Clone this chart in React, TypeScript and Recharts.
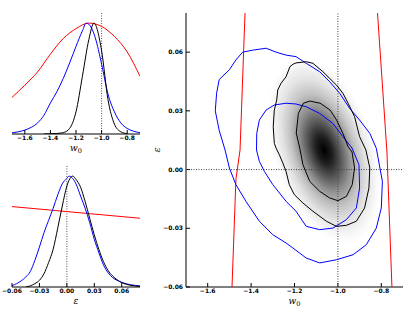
import { ComposedChart, Line, Scatter, XAxis, YAxis, ReferenceLine } from 'recharts'

// axes
const W_DOMAIN: [number, number] = [-1.7, -0.7]
const E_DOMAIN: [number, number] = [-0.06, 0.08]
const P_DOMAIN: [number, number] = [0, 1.1]

const W_TICKS = [-1.6, -1.4, -1.2, -1.0, -0.8]
const W_TICK_LABELS = ['−1.6', '−1.4', '−1.2', '−1.0', '−0.8']
const E_TICKS = [-0.06, -0.03, 0, 0.03, 0.06]
const E_TICK_LABELS = ['−0.06', '−0.03', '0.00', '0.03', '0.06']
const W_MINOR = [-1.7, -1.65, -1.6, -1.55, -1.5, -1.45, -1.4, -1.35, -1.3, -1.25, -1.2, -1.15, -1.1, -1.05, -1.0, -0.95, -0.9, -0.85, -0.8, -0.75]
const E_MINOR = [-0.0525, -0.045, -0.0375, -0.03, -0.0225, -0.015, -0.0075, 0, 0.0075, 0.015, 0.0225, 0.03, 0.0375, 0.045, 0.0525, 0.06, 0.0675, 0.075]

// fiducial values marked by the dotted lines
const W_FIDUCIAL = -1.0
const E_FIDUCIAL = 0

// marginal of w0
const W_RED_X = [-1.7, -1.6, -1.5, -1.4, -1.3, -1.2, -1.1, -1.0, -0.9, -0.8, -0.7]
const W_RED_Y = [0.33, 0.44, 0.56, 0.72, 0.86, 0.95, 1.0, 0.97, 0.88, 0.74, 0.52]
const W_BLUE_X = [-1.7, -1.65, -1.6, -1.55, -1.5, -1.45, -1.4, -1.35, -1.3, -1.25, -1.2, -1.15, -1.12, -1.1, -1.05, -1.0, -0.95, -0.9, -0.85, -0.8, -0.75, -0.7]
const W_BLUE_Y = [0.01, 0.02, 0.035, 0.06, 0.1, 0.17, 0.28, 0.38, 0.5, 0.64, 0.79, 0.93, 1.0, 0.99, 0.87, 0.63, 0.36, 0.2, 0.1, 0.05, 0.025, 0.012]
const W_BLACK_X = [-1.45, -1.4, -1.35, -1.3, -1.25, -1.2, -1.15, -1.1, -1.06, -1.0, -0.95, -0.9, -0.85, -0.8]
const W_BLACK_Y = [0, 0.002, 0.005, 0.012, 0.05, 0.2, 0.52, 0.85, 1.0, 0.75, 0.31, 0.09, 0.02, 0.003]

// marginal of epsilon
const E_RED_X = [-0.06, 0, 0.08]
const E_RED_Y = [0.725, 0.68, 0.62]
const E_BLUE_X = [-0.06, -0.055, -0.05, -0.045, -0.04, -0.035, -0.03, -0.025, -0.02, -0.015, -0.01, -0.005, 0, 0.0025, 0.005, 0.01, 0.015, 0.02, 0.025, 0.03, 0.035, 0.04, 0.045, 0.05, 0.055, 0.06, 0.07, 0.08]
const E_BLUE_Y = [0.012, 0.03, 0.055, 0.09, 0.14, 0.24, 0.36, 0.49, 0.6, 0.71, 0.83, 0.93, 0.98, 1.0, 0.99, 0.93, 0.82, 0.71, 0.58, 0.43, 0.31, 0.2, 0.13, 0.085, 0.06, 0.042, 0.02, 0.01]
const E_BLACK_X = [-0.045, -0.04, -0.035, -0.03, -0.025, -0.02, -0.015, -0.01, -0.005, 0, 0.0065, 0.01, 0.015, 0.02, 0.025, 0.03, 0.035, 0.04, 0.045, 0.05, 0.055, 0.06, 0.07, 0.08]
const E_BLACK_Y = [0, 0.01, 0.03, 0.06, 0.12, 0.22, 0.34, 0.53, 0.73, 0.91, 1.0, 0.97, 0.9, 0.77, 0.62, 0.47, 0.34, 0.23, 0.15, 0.1, 0.065, 0.04, 0.015, 0.005]

// joint (w0, epsilon) contours, traced point by point
const BLUE_OUTER = [
  [-1.547, 0.02], [-1.565, 0.03], [-1.559, 0.039], [-1.547, 0.046], [-1.5, 0.051], [-1.47, 0.056], [-1.439, 0.06],
  [-1.393, 0.061], [-1.331, 0.062], [-1.285, 0.06], [-1.239, 0.0585], [-1.193, 0.0577], [-1.146, 0.0543], [-1.084, 0.05],
  [-1.038, 0.0449], [-0.992, 0.039], [-0.946, 0.0313], [-0.9, 0.0253], [-0.853, 0.0185], [-0.823, 0.0109], [-0.795, -0.006],
  [-0.8, -0.0196], [-0.823, -0.0299], [-0.869, -0.0384], [-0.93, -0.0435], [-1.007, -0.0461], [-1.084, -0.0477],
  [-1.146, -0.0452], [-1.207, -0.0401], [-1.239, -0.0375], [-1.3, -0.0333], [-1.362, -0.0264], [-1.424, -0.0162],
  [-1.47, -0.0077], [-1.5, 0.0008], [-1.52, 0.01],
]
const BLUE_INNER = [
  [-1.193, 0.0335], [-1.239, 0.0339], [-1.293, 0.033], [-1.331, 0.0304], [-1.362, 0.0253], [-1.374, 0.0185], [-1.375, 0.01],
  [-1.362, 0.0042], [-1.339, -0.0009], [-1.3, -0.0077], [-1.239, -0.0162], [-1.193, -0.0213], [-1.146, -0.029],
  [-1.084, -0.0307], [-1.023, -0.0299], [-0.961, -0.0256], [-0.915, -0.0196], [-0.9, -0.0094], [-0.903, 0.0025],
  [-0.935, 0.011], [-0.977, 0.0168], [-1.023, 0.0236], [-1.084, 0.0287], [-1.146, 0.0321],
]
const BLACK_OUTER = [
  [-1.207, 0.0538], [-1.221, 0.0526], [-1.239, 0.0474], [-1.262, 0.0441], [-1.277, 0.0407], [-1.282, 0.0355], [-1.293, 0.0304],
  [-1.298, 0.0219], [-1.293, 0.0134], [-1.285, 0.011], [-1.27, 0.0076], [-1.254, 0.0034], [-1.239, -0.0009], [-1.224, -0.0077],
  [-1.201, -0.0128], [-1.161, -0.0171], [-1.115, -0.0213], [-1.053, -0.0264], [-1.007, -0.029], [-0.961, -0.0285],
  [-0.915, -0.0264], [-0.877, -0.0196], [-0.857, -0.0094], [-0.853, 0.0008], [-0.871, 0.01], [-0.9, 0.0168], [-0.923, 0.027],
  [-0.953, 0.0339], [-0.977, 0.039], [-1.007, 0.0432], [-1.038, 0.0466], [-1.069, 0.05], [-1.115, 0.0543], [-1.146, 0.0551],
  [-1.193, 0.0545],
]
const BLACK_INNER = [
  [-1.129, 0.035], [-1.159, 0.0339], [-1.182, 0.0287], [-1.192, 0.0187], [-1.176, 0.011], [-1.161, 0.0025], [-1.13, -0.006],
  [-1.084, -0.0111], [-1.038, -0.0145], [-1.0, -0.0159], [-0.961, -0.0137], [-0.934, -0.0077], [-0.923, 0.0008], [-0.935, 0.009],
  [-0.953, 0.0117], [-0.977, 0.0185], [-1.006, 0.0253], [-1.036, 0.0304], [-1.082, 0.0339],
]
const RED_LEFT = [[-1.428, 0.08], [-1.451, 0.01], [-1.47, -0.005], [-1.488, -0.06]]
const RED_RIGHT = [[-0.8175, 0.08], [-0.774, 0.009], [-0.751, -0.06]]
const DENSITY_PEAK = [[-1.064, 0.01]]

const zip = (xs: number[], ys: number[]) => xs.map((x, i) => ({ x, y: ys[i] }))
const pts = (arr: number[][]) => arr.map(([w, e]) => ({ w, e }))
const fmt = (ticks: number[], labels: string[]) => (v: number) => {
  const i = ticks.findIndex((t) => Math.abs(t - v) < 1e-9)
  return i >= 0 ? labels[i] : ''
}

const tickFont = { fontFamily: 'DejaVu Sans', fontWeight: 'bold', fontSize: 6, fill: '#000' }
const mathFont = { fontFamily: 'DejaVu Serif', fontStyle: 'italic' }

const wTitle = (props: any) => {
  const vb = props.viewBox
  if (!vb) return null
  return (
    <text x={vb.x + vb.width / 2} y={vb.y + 16.5} textAnchor="middle" fontSize={9} {...mathFont}>
      w<tspan fontSize={6.5} fontStyle="normal" dy={2}>0</tspan>
    </text>
  )
}
const eTitle = (props: any) => {
  const vb = props.viewBox
  if (!vb) return null
  return (
    <text x={vb.x + vb.width / 2} y={vb.y + 16.5} textAnchor="middle" fontSize={9} {...mathFont}>
      ε
    </text>
  )
}
const eTitleY = (props: any) => {
  const vb = props.viewBox
  if (!vb) return null
  const x = vb.x + 20
  const y = vb.y + vb.height / 2
  return (
    <text x={x} y={y} textAnchor="middle" fontSize={9.5} transform={`rotate(-90 ${x} ${y})`} {...mathFont}>
      ε
    </text>
  )
}

const DensityBlob = (props: any) => {
  const { cx, cy } = props
  if (cx == null || cy == null) return <g />
  return (
    <g>
      <defs>
        <radialGradient id="densityFill" cx="50%" cy="50%" r="50%">
          <stop offset="0%" stopColor="#000" />
          <stop offset="14%" stopColor="#1e1e1e" />
          <stop offset="28%" stopColor="#545454" />
          <stop offset="43%" stopColor="#909090" />
          <stop offset="58%" stopColor="#c2c2c2" />
          <stop offset="73%" stopColor="#e2e2e2" />
          <stop offset="87%" stopColor="#f5f5f5" />
          <stop offset="100%" stopColor="#fff" stopOpacity={0} />
        </radialGradient>
      </defs>
      <ellipse cx={cx} cy={cy} rx={52} ry={100} fill="url(#densityFill)" transform={`rotate(-18 ${cx} ${cy})`} />
    </g>
  )
}

const NoMark = () => <g />

type Curve = { color: string; data: { x: number; y: number }[] }

const Marginal = ({ top, height, marginTop, domain, ticks, labels, refX, title, curves }: {
  top: number
  height: number
  marginTop: number
  domain: [number, number]
  ticks: number[]
  labels: string[]
  refX: number
  title: (p: any) => any
  curves: Curve[]
}) => (
  <div style={{ position: 'absolute', left: 0, top }}>
    <ComposedChart width={145} height={height} margin={{ top: marginTop, right: 5, bottom: 0, left: 12 }}>
      <XAxis type="number" dataKey="x" domain={domain} allowDataOverflow ticks={ticks} interval={0}
        tickFormatter={fmt(ticks, labels)} tickSize={-4} tickMargin={6} tick={tickFont} stroke="#000"
        height={height - marginTop - 122} label={title} />
      <XAxis xAxisId="top" orientation="top" mirror type="number" domain={domain} allowDataOverflow ticks={ticks}
        interval={0} tickSize={4} tick={false} height={0} stroke="#000" />
      <YAxis type="number" domain={P_DOMAIN} allowDataOverflow mirror width={0} tick={false} tickLine={false} stroke="#000" />
      <YAxis yAxisId="r" orientation="right" type="number" domain={P_DOMAIN} allowDataOverflow mirror width={0}
        tick={false} tickLine={false} stroke="#000" />
      <ReferenceLine x={refX} stroke="#555" strokeDasharray="1 1.5" />
      {curves.map((c) => (
        <Line key={c.color} data={c.data} dataKey="y" type="monotone" stroke={c.color} strokeWidth={1}
          dot={false} activeDot={false} isAnimationActive={false} />
      ))}
    </ComposedChart>
  </div>
)

// a contour is drawn as a scatter whose points are joined in order and not marked
const contour = (key: string, data: number[][], color: string, closed = true, dash?: string) => (
  <Scatter key={key} data={pts(closed ? [...data, data[0]] : data)} dataKey="e" shape={NoMark}
    line={{ stroke: color, strokeWidth: 1, strokeDasharray: dash }} lineType="joint" fill="none"
    isAnimationActive={false} />
)

export default function App() {
  return (
    <div style={{ position: 'absolute', left: 0, top: 0, width: 415, height: 312, background: '#fff' }}>
      <Marginal top={0} height={165} marginTop={12} domain={W_DOMAIN} ticks={W_TICKS} labels={W_TICK_LABELS}
        refX={W_FIDUCIAL} title={wTitle}
        curves={[
          { color: '#ff0000', data: zip(W_RED_X, W_RED_Y) },
          { color: '#0000ff', data: zip(W_BLUE_X, W_BLUE_Y) },
          { color: '#000000', data: zip(W_BLACK_X, W_BLACK_Y) },
        ]} />
      <Marginal top={150} height={162} marginTop={15} domain={E_DOMAIN} ticks={E_TICKS} labels={E_TICK_LABELS}
        refX={E_FIDUCIAL} title={eTitle}
        curves={[
          { color: '#ff0000', data: zip(E_RED_X, E_RED_Y) },
          { color: '#0000ff', data: zip(E_BLUE_X, E_BLUE_Y) },
          { color: '#000000', data: zip(E_BLACK_X, E_BLACK_Y) },
        ]} />

      <div style={{ position: 'absolute', left: 140, top: 0 }}>
        <ComposedChart width={275} height={312} margin={{ top: 13, right: 12, bottom: 0, left: 0 }}>
          <XAxis type="number" dataKey="w" domain={W_DOMAIN} allowDataOverflow ticks={W_TICKS} interval={0}
            tickFormatter={fmt(W_TICKS, W_TICK_LABELS)} tickSize={-4} tickMargin={6} tick={tickFont}
            stroke="#000" height={25} label={wTitle} />
          <XAxis xAxisId="bm" mirror type="number" domain={W_DOMAIN} allowDataOverflow ticks={W_MINOR} interval={0}
            tickSize={2} tick={false} axisLine={false} height={0} stroke="#000" />
          <XAxis xAxisId="t" orientation="top" mirror type="number" domain={W_DOMAIN} allowDataOverflow ticks={W_TICKS}
            interval={0} tickSize={4} tick={false} height={0} stroke="#000" />
          <XAxis xAxisId="tm" orientation="top" mirror type="number" domain={W_DOMAIN} allowDataOverflow ticks={W_MINOR}
            interval={0} tickSize={2} tick={false} axisLine={false} height={0} stroke="#000" />
          <YAxis type="number" dataKey="e" domain={E_DOMAIN} allowDataOverflow ticks={E_TICKS} interval={0}
            tickFormatter={fmt(E_TICKS, E_TICK_LABELS)} tickSize={-4} tickMargin={7} tick={tickFont}
            stroke="#000" width={46} label={eTitleY} />
          <YAxis yAxisId="lm" mirror type="number" domain={E_DOMAIN} allowDataOverflow ticks={E_MINOR} interval={0}
            tickSize={2} tick={false} axisLine={false} width={0} stroke="#000" />
          <YAxis yAxisId="r" orientation="right" mirror type="number" domain={E_DOMAIN} allowDataOverflow ticks={E_TICKS}
            interval={0} tickSize={4} tick={false} width={0} stroke="#000" />
          <YAxis yAxisId="rm" orientation="right" mirror type="number" domain={E_DOMAIN} allowDataOverflow
            ticks={E_MINOR} interval={0} tickSize={2} tick={false} axisLine={false} width={0} stroke="#000" />
          <Scatter data={pts(DENSITY_PEAK)} dataKey="e" shape={DensityBlob} isAnimationActive={false} />
          {contour('fidW', [[W_FIDUCIAL, E_DOMAIN[0]], [W_FIDUCIAL, E_DOMAIN[1]]], '#444', false, '1 1.5')}
          {contour('fidE', [[W_DOMAIN[0], E_FIDUCIAL], [W_DOMAIN[1], E_FIDUCIAL]], '#444', false, '1 1.5')}
          {contour('redL', RED_LEFT, '#ff0000', false)}
          {contour('redR', RED_RIGHT, '#ff0000', false)}
          {contour('blueO', BLUE_OUTER, '#0000ff')}
          {contour('blueI', BLUE_INNER, '#0000ff')}
          {contour('blackO', BLACK_OUTER, '#000000')}
          {contour('blackI', BLACK_INNER, '#000000')}
        </ComposedChart>
      </div>
    </div>
  )
}
